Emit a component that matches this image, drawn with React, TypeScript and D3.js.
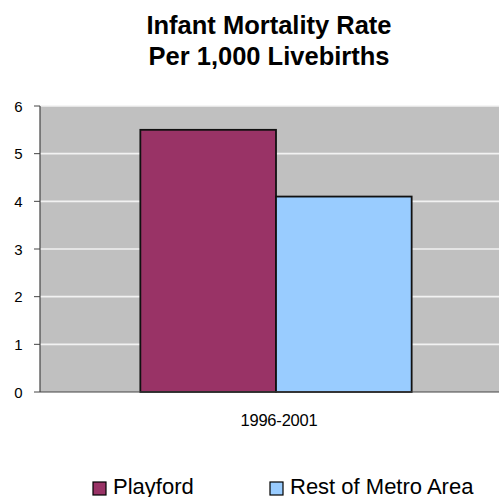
import React from "react";
import * as d3 from "d3";

// chart values
const categories = ["1996-2001"];
const seriesNames = ["Playford", "Rest of Metro Area"];
const playford = [5.5];
const restOfMetro = [4.1];
const yTicks = [0, 1, 2, 3, 4, 5, 6];
const titleLines = ["Infant Mortality Rate", "Per 1,000 Livebirths"];

const COLORS = ["#993366", "#99CCFF"];
const FONT = "'Liberation Sans', Arial, sans-serif";

export default function App() {
	const width = 499;
	const height = 497;
	const plot = { left: 40, right: 512, top: 106, bottom: 392 };

	const values = [playford, restOfMetro];

	const x0 = d3.scaleBand().domain(categories).range([plot.left, plot.right]).padding(0.27);
	const x1 = d3.scaleBand().domain(seriesNames).range([0, x0.bandwidth()]).padding(0);
	const y = d3.scaleLinear().domain([0, 6]).range([plot.bottom, plot.top]);

	const legendX = [93, 270];

	return (
		<svg
			width={width}
			height={height}
			style={{ position: "absolute", left: 0, top: 0, background: "#fff" }}
			fontFamily={FONT}
		>
			{/* title */}
			{titleLines.map((t, i) => (
				<text key={t} x={269} y={34 + i * 31} textAnchor="middle" fontSize={25.5} fontWeight="bold" fill="#000">
					{t}
				</text>
			))}

			{/* plot area */}
			<rect x={plot.left} y={plot.top} width={plot.right - plot.left} height={plot.bottom - plot.top} fill="#C0C0C0" />
			{yTicks
				.filter((t) => t > 0)
				.map((t) => (
					<line key={t} x1={plot.left} x2={plot.right} y1={y(t)} y2={y(t)} stroke="#f2f2f2" strokeWidth={1.6} />
				))}

			{/* bars */}
			{categories.map((c, ci) =>
				seriesNames.map((s, si) => {
					const v = values[si][ci];
					const bx = (x0(c) ?? 0) + (x1(s) ?? 0);
					return (
						<rect
							key={c + s}
							x={bx}
							y={y(v)}
							width={x1.bandwidth()}
							height={y(0) - y(v)}
							fill={COLORS[si]}
							stroke="#111"
							strokeWidth={1.8}
						/>
					);
				})
			)}

			{/* axes */}
			<line x1={plot.left} x2={plot.left} y1={plot.top} y2={plot.bottom} stroke="#444" strokeWidth={1.2} />
			<line x1={plot.left} x2={plot.right} y1={plot.bottom} y2={plot.bottom} stroke="#444" strokeWidth={1.2} />
			{yTicks.map((t) => (
				<g key={t}>
					<line x1={plot.left - 6} x2={plot.left} y1={y(t)} y2={y(t)} stroke="#444" />
					<text x={18.5} y={y(t) + 5.5} textAnchor="middle" fontSize={15} fill="#000">
						{t}
					</text>
				</g>
			))}
			{categories.map((c) => (
				<text key={c} x={(x0(c) ?? 0) + x0.bandwidth() / 2 + 3} y={426} textAnchor="middle" fontSize={16.5} letterSpacing={-0.2} fill="#000">
					{c}
				</text>
			))}

			{/* legend */}
			{seriesNames.map((s, i) => {
				const lx = legendX[i];
				return (
					<g key={s}>
						<rect x={lx} y={482} width={13} height={13} fill={COLORS[i]} stroke="#000" strokeWidth={1.2} />
						<text x={lx + 20} y={494} fontSize={22} fill="#000">
							{s}
						</text>
					</g>
				);
			})}
		</svg>
	);
}
